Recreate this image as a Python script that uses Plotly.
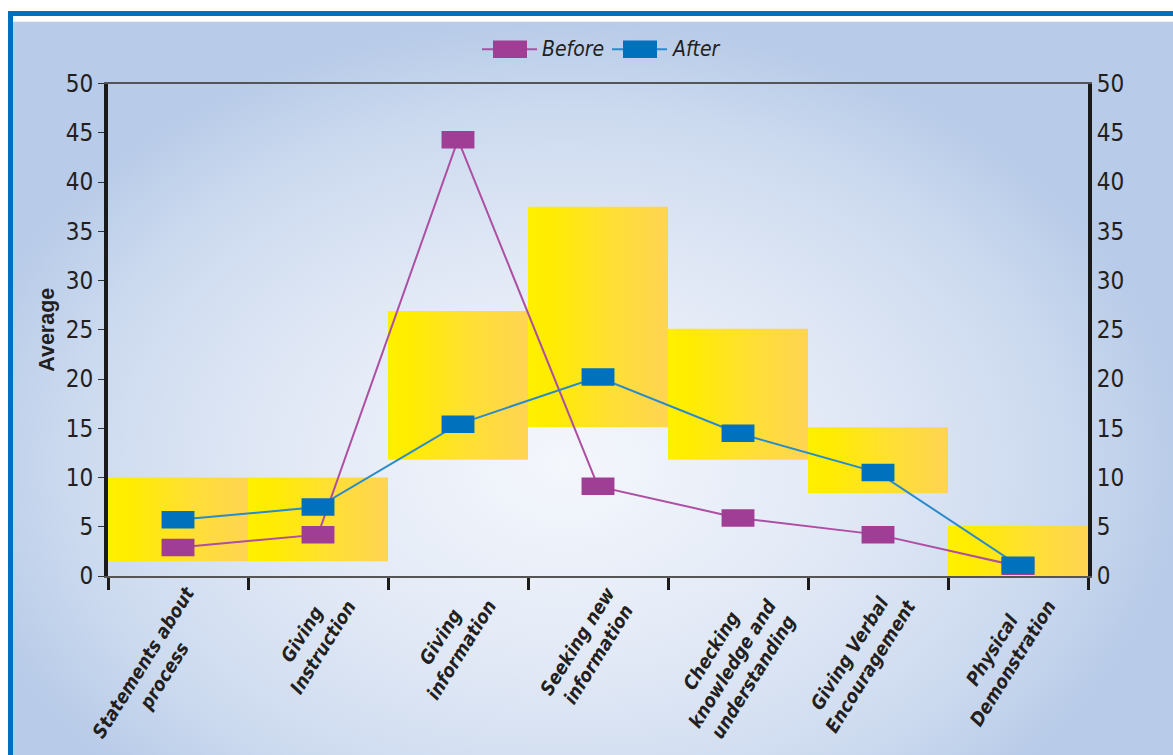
import plotly.graph_objects as go

# ---- data ---------------------------------------------------------------
categories = [
    "Statements about<br>process",
    "Giving<br>Instruction",
    "Giving<br>information",
    "Seeking new<br>information",
    "Checking<br>knowledge and<br>understanding",
    "Giving Verbal<br>Encouragement",
    "Physical<br>Demonstration",
]
before = [2.9, 4.2, 44.3, 9.1, 5.9, 4.2, 1.0]
after = [5.7, 7.0, 15.4, 20.2, 14.5, 10.5, 1.1]
range_low = [1.5, 1.5, 11.8, 15.1, 11.8, 8.4, 0.0]
range_high = [10.0, 10.0, 26.9, 37.5, 25.1, 15.1, 5.1]
y_ticks = [0, 5, 10, 15, 20, 25, 30, 35, 40, 45, 50]
series_names = ["Before", "After"]

# ---- page geometry (pixels) --------------------------------------------
W, H = 1173, 755
PLOT_L, PLOT_R, PLOT_T, PLOT_B = 108, 1088, 83.5, 576


def px(x):
    return x / W


def py(y):
    return 1 - y / H


FONT = "Liberation Sans Narrow, Arial Narrow, DejaVu Sans Condensed, sans-serif"
TEXT = "#231F20"
PURPLE, PURPLE_LINE = "#A03E95", "#AD4FA2"
BLUE, BLUE_LINE = "#0071BC", "#2A8BCB"

fig = go.Figure()

# soft radial backdrop behind everything (own full-page axes)
fig.add_trace(go.Scatter(
    x=[-60, 1180, 1180, -60, -60], y=[11, 11, 909, 909, 11],
    xaxis="x", yaxis="y", mode="lines", fill="toself",
    line=dict(width=0), hoverinfo="skip", showlegend=False,
    fillgradient=dict(type="radial", colorscale=[
        [0.0, "#F4F7FC"], [0.45, "#E2E9F6"], [0.8, "#CCDAEF"], [1.0, "#B8CBE8"]]),
))

# yellow range boxes, one per category (base subplot, left axis)
n = len(categories)
for i in range(n):
    lo, hi = range_low[i], range_high[i]
    fig.add_trace(go.Scatter(
        x=[i - 0.5, i + 0.5, i + 0.5, i - 0.5, i - 0.5],
        y=[lo, lo, hi, hi, lo],
        xaxis="x2", yaxis="y2", mode="lines", fill="toself",
        line=dict(width=0), hoverinfo="skip", showlegend=False,
        fillgradient=dict(type="horizontal", colorscale=[
            [0.0, "#FFF000"], [0.15, "#FFEC00"], [0.6, "#FFDF35"], [1.0, "#FFD453"]]),
    ))

xs = list(range(n))

# connecting lines (overlay subplot, right axis with the same scale)
for vals, col in ((before, PURPLE_LINE), (after, BLUE_LINE)):
    fig.add_trace(go.Scatter(
        x=xs, y=vals, xaxis="x2", yaxis="y3", mode="lines",
        line=dict(color=col, width=2), hoverinfo="skip", showlegend=False,
    ))

# rectangular markers (thick horizontal line symbols)
for name, vals, col in ((series_names[0], before, PURPLE), (series_names[1], after, BLUE)):
    fig.add_trace(go.Scatter(
        x=xs, y=vals, xaxis="x2", yaxis="y3", mode="markers", name=name,
        marker=dict(symbol="line-ew", size=23.5, color=col,
                    line=dict(color=col, width=17.5)),
        showlegend=False,
    ))

# category labels, rotated under each category
LABEL_SIZE = 19
annotations = []
for i, lab in enumerate(categories):
    nlines = lab.count("<br>") + 1
    annotations.append(dict(
        text=lab, x=i, y=py(PLOT_B), xref="x2", yref="paper",
        xanchor="right", yanchor="top",
        xshift=3 + 0.848 * nlines * 1.3 * LABEL_SIZE, yshift=-4,
        textangle=-58, showarrow=False, align="center",
        font=dict(family=FONT, size=LABEL_SIZE, color=TEXT, weight="bold", style="italic"),
    ))

# legend keys
shapes = []
legend_items = [(series_names[0], PURPLE, PURPLE_LINE, 482), (series_names[1], BLUE, BLUE_LINE, 612)]
for name, col, lcol, x0 in legend_items:
    shapes.append(dict(type="line", xref="paper", yref="paper",
                       x0=px(x0), x1=px(x0 + 55), y0=py(49.3), y1=py(49.3),
                       line=dict(color=lcol, width=2)))
    shapes.append(dict(type="rect", xref="paper", yref="paper",
                       x0=px(x0 + 11), x1=px(x0 + 45), y0=py(40.5), y1=py(58),
                       fillcolor=col, line=dict(width=0)))
    annotations.append(dict(
        text=name, x=px(x0 + 58), y=py(49), xref="paper", yref="paper",
        xanchor="left", yanchor="middle", showarrow=False,
        font=dict(family=FONT, size=21, color=TEXT, style="italic"),
    ))

# blue frame
shapes.append(dict(type="rect", xref="paper", yref="paper", layer="above",
                   x0=px(10.5), x1=px(W + 30), y0=py(13.5), y1=py(H + 30),
                   line=dict(color="#0071BC", width=5), fillcolor="rgba(0,0,0,0)"))

xdom = [px(PLOT_L), px(PLOT_R)]
ydom = [py(PLOT_B), py(PLOT_T)]
tick_font = dict(family=FONT, size=24, color=TEXT)

fig.update_layout(
    width=W, height=H,
    margin=dict(l=0, r=0, t=0, b=0, autoexpand=False),
    paper_bgcolor="white",
    plot_bgcolor="rgba(0,0,0,0)",
    showlegend=False,
    xaxis=dict(domain=[px(8), 1], range=[0, W], visible=False, fixedrange=True),
    yaxis=dict(domain=[0, py(11)], range=[H, 0], visible=False, fixedrange=True),
    xaxis2=dict(
        domain=xdom, anchor="y2", range=[-0.5, n - 0.5],
        tickmode="array", tickvals=[i - 0.5 for i in range(n + 1)],
        showticklabels=False, ticks="outside", ticklen=12, tickwidth=3,
        tickcolor="#1A1A1A", showline=True, linewidth=1.5, linecolor="#555555",
        mirror=True, showgrid=False, zeroline=False,
    ),
    yaxis2=dict(
        domain=ydom, anchor="x2", range=[0, 50],
        tickmode="array", tickvals=y_ticks, ticktext=[str(v) for v in y_ticks],
        ticks="outside", ticklen=6, tickwidth=1, tickcolor="#333333",
        showline=True, linewidth=4, linecolor="#1A1A1A",
        showgrid=False, zeroline=False, tickfont=tick_font,
        title=dict(text="Average", standoff=6,
                   font=dict(family="Liberation Sans, Arial, sans-serif",
                             size=21.5, color=TEXT, weight="bold")),
    ),
    yaxis3=dict(
        overlaying="y2", anchor="x2", side="right", range=[0, 50],
        tickmode="array", tickvals=y_ticks, ticktext=[str(v) for v in y_ticks],
        ticks="", showline=True, linewidth=4, linecolor="#1A1A1A",
        showgrid=False, zeroline=False, tickfont=tick_font,
    ),
    annotations=annotations,
    shapes=shapes,
)

fig.write_html("out.html")
